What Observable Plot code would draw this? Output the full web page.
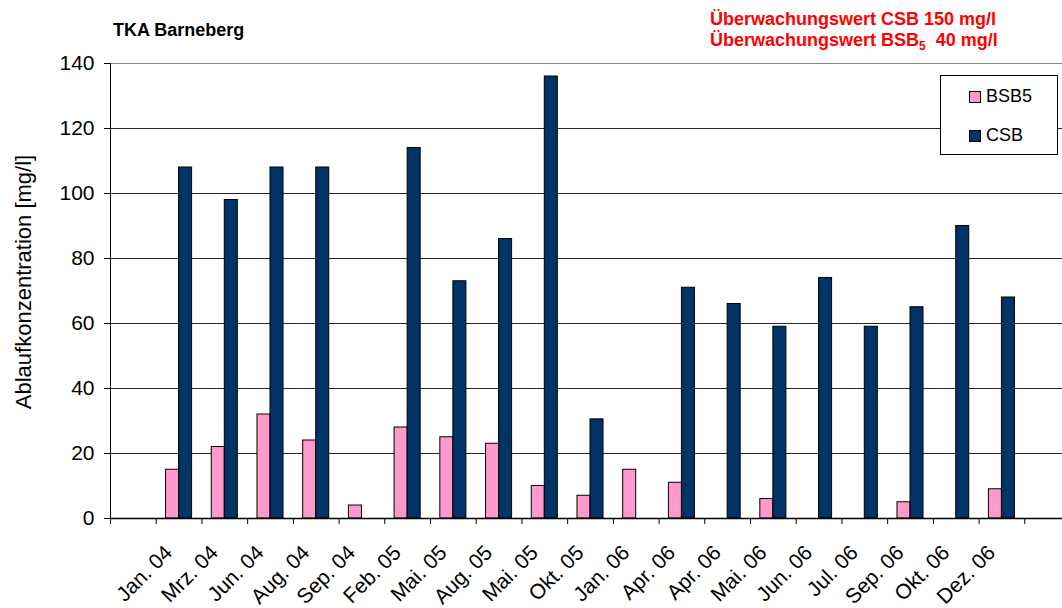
<!DOCTYPE html>
<html>
<head>
<meta charset="utf-8">
<script src="https://cdn.jsdelivr.net/npm/d3@7"></script>
<script src="https://cdn.jsdelivr.net/npm/@observablehq/plot@0.6"></script>
<style>
html, body { margin: 0; padding: 0; background: #fff; overflow: hidden; }
#wrap { position: relative; width: 1062px; height: 608px; overflow: hidden; font-family: "Liberation Sans", Arial, sans-serif; }
#chart { position: absolute; left: 0; top: 0; }
#chart svg { max-width: none !important; }
.title { position: absolute; left: 113px; top: 21px; font-size: 18px; line-height: 18px; font-weight: bold; color: #000; white-space: nowrap; }
.limits { position: absolute; left: 710px; top: 9px; font-size: 18px; line-height: 21px; font-weight: bold; color: #ff0000; white-space: nowrap; }
.limits sub { font-size: 12px; line-height: 0; vertical-align: -4px; }
.legend { position: absolute; left: 940px; top: 75px; width: 116px; height: 78px; border: 1px solid #000; background: #fff; font-size: 18px; }
.legend .item { position: absolute; left: 28px; height: 20px; line-height: 20px; white-space: nowrap; }
.legend .sw { display: inline-block; width: 10px; height: 10px; border: 1px solid #000; margin-right: 5px; vertical-align: -1px; }
</style>
</head>
<body>
<div id="wrap">
  <div id="chart"></div>
  <div class="title">TKA Barneberg</div>
  <div class="limits">Überwachungswert CSB 150 mg/l<br>Überwachungswert BSB<sub>5</sub>&nbsp; 40 mg/l</div>
  <div class="legend">
    <div class="item" style="top:10px"><span class="sw" style="background:#FF99CC"></span>BSB5</div>
    <div class="item" style="top:49px"><span class="sw" style="background:#003366"></span>CSB</div>
  </div>
</div>
<script>
// ---- data ----
const categories = ["Jan. 04","Mrz. 04","Jun. 04","Aug. 04","Sep. 04","Feb. 05","Mai. 05","Aug. 05","Mai. 05","Okt. 05","Jan. 06","Apr. 06","Apr. 06","Mai. 06","Jun. 06","Jul. 06","Sep. 06","Okt. 06","Dez. 06"];
const bsb5 = [15, 22, 32, 24, 4, 28, 25, 23, 10, 7, 15, 11, null, 6, null, null, 5, null, 9];
const csb  = [108, 98, 108, 108, null, 114, 73, 86, 136, 30.5, null, 71, 66, 59, 74, 59, 65, 90, 68];
const yTicks = [0, 20, 40, 60, 80, 100, 120, 140];
const gridTicks = [20, 40, 60, 80, 100, 120];

// band slots: one empty slot before and after the categories
const keys = d3.range(categories.length + 2).map(String);
const labelOf = k => categories[+k - 1] ?? "";
const rows = categories.map((c, i) => ({key: String(i + 1), cat: c, bsb: bsb5[i], csb: csb[i]}));

const W = 1070, H = 608, mL = 110, mR = 0, mT = 63, mB = 90;
const pIn = 0.43;
const step = (W - mL - mR) / keys.length;
const half = step * (1 - pIn) / 2;

const chart = Plot.plot({
  width: W,
  height: H,
  marginLeft: mL,
  marginRight: mR,
  marginTop: mT,
  marginBottom: mB,
  style: {fontFamily: "'Liberation Sans', Arial, sans-serif", background: "#fff", color: "#000", maxWidth: "none"},
  x: {type: "band", domain: keys, paddingInner: pIn, paddingOuter: pIn / 2, round: false},
  y: {domain: [0, 140]},
  marks: [
    Plot.gridY(gridTicks, {stroke: "#000", strokeOpacity: 0.85}),
    Plot.ruleY([140], {stroke: "#888"}),
    Plot.barY(rows.filter(d => d.bsb != null), {x: "key", y: "bsb", fill: "#FF99CC", stroke: "#000", strokeWidth: 1, insetRight: half}),
    Plot.barY(rows.filter(d => d.csb != null), {x: "key", y: "csb", fill: "#003366", stroke: "#000", strokeWidth: 1, insetLeft: half}),
    Plot.ruleY([0], {stroke: "#000", strokeWidth: 1.5}),
    Plot.frame({anchor: "left", stroke: "#000"}),
    Plot.axisY({ticks: yTicks, tickSize: 6, tickPadding: 10, fontSize: 21, label: null}),
    Plot.axisX({tickSize: 6, tickFormat: () => "", label: null, dx: -step / 2}),
    Plot.text(keys, {x: d => d, frameAnchor: "bottom", text: labelOf, rotate: -45, textAnchor: "end", lineAnchor: "top", dx: -16, dy: 25, fontSize: 21}),
    Plot.text(["Ablaufkonzentration [mg/l]"], {frameAnchor: "left", rotate: -90, textAnchor: "middle", dx: -87, dy: -9, fontSize: 22})
  ]
});
document.getElementById("chart").appendChild(chart);
</script>
</body>
</html>
